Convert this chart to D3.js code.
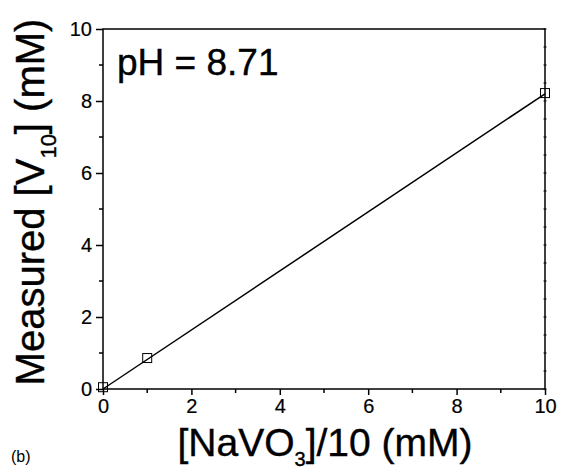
<!DOCTYPE html>
<html>
<head>
<meta charset="utf-8">
<script src="https://cdn.jsdelivr.net/npm/d3@7"></script>
<style>
  body { margin: 0; background: #fff; }
  text { font-family: "Liberation Sans", Arial, sans-serif; fill: #000; }
  .big { stroke: #000; stroke-width: 0.4px; }
</style>
</head>
<body>
<svg id="chart" width="561" height="469"></svg>
<script>
// measured points
var xData = [0, 1, 10];
var yData = [0.05, 0.86, 8.22];
// linear fit
var fitX = [0, 10];
var fitY = [0, 8.2];
var xTicks = [0, 2, 4, 6, 8, 10];
var yTicks = [0, 2, 4, 6, 8, 10];

var svg = d3.select("#chart");
var x = d3.scaleLinear().domain([0, 10]).range([103, 545]);
var y = d3.scaleLinear().domain([0, 10]).range([389, 29]);

// frame
svg.append("rect")
    .attr("x", x(0)).attr("y", y(10))
    .attr("width", x(10) - x(0)).attr("height", y(0) - y(10))
    .style("fill", "none").style("stroke", "#000").style("stroke-width", 1.5);

var xAxis = svg.append("g").attr("transform", "translate(0," + y(0) + ")")
    .call(d3.axisBottom(x).tickValues(xTicks).tickSize(6).tickPadding(4).tickFormat(d3.format("d")));
var yAxis = svg.append("g").attr("transform", "translate(" + x(0) + ",0)")
    .call(d3.axisLeft(y).tickValues(yTicks).tickSize(7).tickPadding(4).tickFormat(d3.format("d")));
[xAxis, yAxis].forEach(function(g) {
  g.select(".domain").remove();
  g.selectAll("line").style("stroke", "#000").style("stroke-width", 1.5);
  g.selectAll("text").style("font-size", "20px").style("font-family", "Liberation Sans, Arial, sans-serif")
    .style("stroke", "#000").style("stroke-width", "0.2px");
});

// minor ticks
var minor = [1, 3, 5, 7, 9];
svg.append("g").selectAll("line").data(minor).enter().append("line")
    .attr("x1", function(d) { return x(d); }).attr("x2", function(d) { return x(d); })
    .attr("y1", y(0)).attr("y2", y(0) + 4)
    .style("stroke", "#000").style("stroke-width", 1.5);
svg.append("g").selectAll("line").data(minor).enter().append("line")
    .attr("y1", function(d) { return y(d); }).attr("y2", function(d) { return y(d); })
    .attr("x1", x(0)).attr("x2", x(0) - 4)
    .style("stroke", "#000").style("stroke-width", 1.5);
// right axis small ticks
svg.append("g").selectAll("line").data(d3.range(0, 10.01, 0.5)).enter().append("line")
    .attr("y1", function(d) { return y(d); }).attr("y2", function(d) { return y(d); })
    .attr("x1", x(10) - 1.5).attr("x2", x(10) + 1.5)
    .style("stroke", "#000").style("stroke-width", 1);

// fit line
svg.append("line")
    .attr("x1", x(fitX[0])).attr("y1", y(fitY[0]))
    .attr("x2", x(fitX[1])).attr("y2", y(fitY[1]))
    .style("stroke", "#000").style("stroke-width", 1.5);

// squares
var pts = xData.map(function(d, i) { return {x: d, y: yData[i]}; });
svg.selectAll(".pt").data(pts).enter().append("rect")
    .attr("class", "pt")
    .attr("x", function(d) { return x(d.x) - 4.5; })
    .attr("y", function(d) { return y(d.y) - 4.5; })
    .attr("width", 9).attr("height", 9)
    .style("fill", "none").style("stroke", "#000").style("stroke-width", 1);

// annotation
svg.append("text").attr("class", "big").attr("x", 117).attr("y", 75)
    .style("font-size", "37px").text("pH = 8.71");

// x title
var xt = svg.append("text").attr("class", "big").attr("x", (x(0) + x(10)) / 2 + 1).attr("y", 456)
    .style("font-size", "39px").style("text-anchor", "middle");
xt.append("tspan").text("[NaVO");
xt.append("tspan").attr("dy", 10).style("font-size", "20px").text("3");
xt.append("tspan").attr("dy", -10).text("]/10 (mM)");

// y title
var yt = svg.append("text").attr("class", "big")
    .attr("transform", "translate(44,202) rotate(-90)")
    .style("font-size", "40px").style("text-anchor", "middle");
yt.append("tspan").text("Measured [V");
yt.append("tspan").attr("dy", 12).style("font-size", "22px").text("10");
yt.append("tspan").attr("dy", -12).text("] (mM)");

svg.append("text").attr("x", 11).attr("y", 462)
    .style("font-size", "16px").text("(b)");
</script>
</body>
</html>
